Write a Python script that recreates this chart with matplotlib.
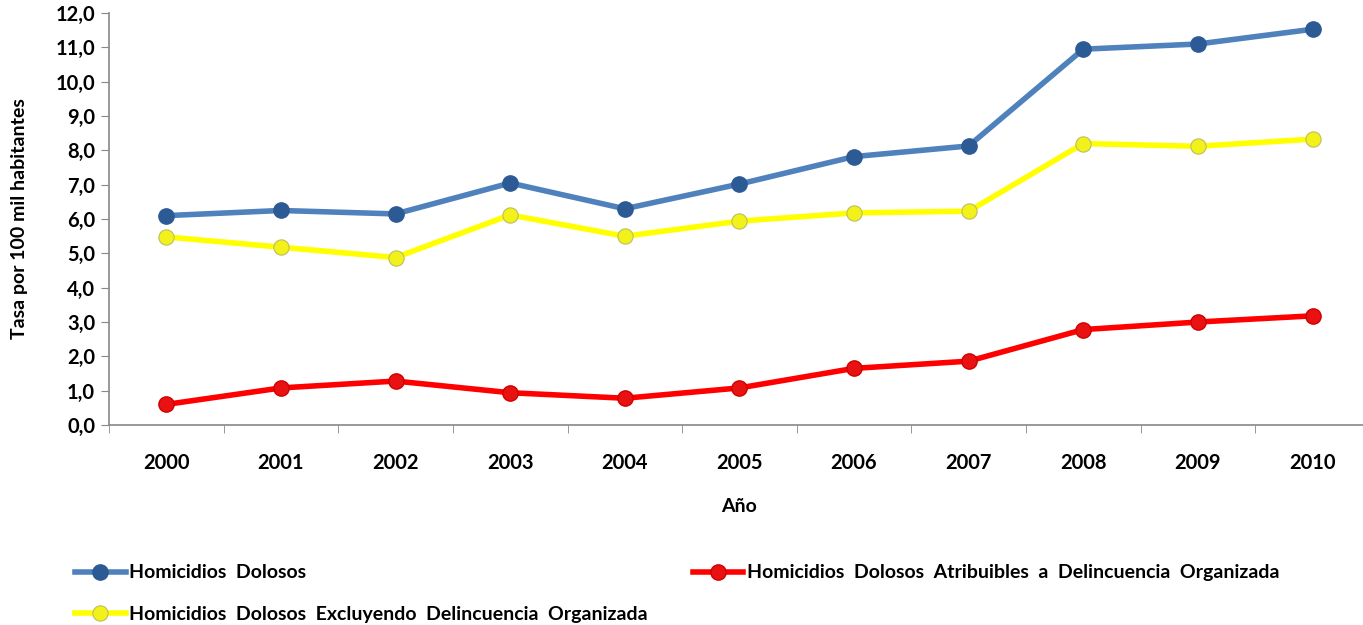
import matplotlib
matplotlib.use('Agg')
import matplotlib.pyplot as plt
import numpy as np

plt.rcParams['font.family'] = ['Lato', 'DejaVu Sans']
plt.rcParams['font.weight'] = 'bold'

years = ['2000', '2001', '2002', '2003', '2004', '2005', '2006', '2007', '2008', '2009', '2010']
homicidios = [6.1, 6.25, 6.15, 7.05, 6.3, 7.02, 7.82, 8.13, 10.95, 11.1, 11.53]
excluyendo = [5.48, 5.18, 4.88, 6.12, 5.5, 5.94, 6.18, 6.23, 8.2, 8.12, 8.33]
atribuibles = [0.6, 1.08, 1.28, 0.94, 0.78, 1.08, 1.65, 1.86, 2.78, 3.0, 3.18]

labels = ['Homicidios  Dolosos',
          'Homicidios  Dolosos  Excluyendo  Delincuencia  Organizada',
          'Homicidios  Dolosos  Atribuibles  a  Delincuencia  Organizada']

fig = plt.figure(figsize=(13.63, 6.25), dpi=100)
ax = fig.add_axes([0.080, 0.32, 0.925, 0.659])
x = np.arange(len(years))

l1, = ax.plot(x, homicidios, color='#4F81BD', lw=4, marker='o', ms=11,
              mfc='#2C5A94', mec='#2C5A94', label=labels[0])
l2, = ax.plot(x, excluyendo, color='#FFFF00', lw=4, marker='o', ms=11,
              mfc='#F2F21A', mec='#BDBD60', mew=0.8, label=labels[1])
l3, = ax.plot(x, atribuibles, color='#FF0000', lw=4, marker='o', ms=11,
              mfc='#E81212', mec='#D00000', label=labels[2])

ax.set_xlim(-0.5, len(years) - 0.5)
ax.set_ylim(0, 12)
ax.set_yticks(np.arange(0, 12.1, 1))
ax.set_yticklabels([f'{v:.1f}'.replace('.', ',') for v in np.arange(0, 12.1, 1)])
ax.set_xticks(x)
ax.set_xticklabels(years)
ax.set_xticks(np.arange(-0.5, len(years), 1), minor=True)
ax.tick_params(axis='x', which='major', length=0, pad=20, labelsize=14.5)
ax.tick_params(axis='x', which='minor', length=6, color='#888888', direction='out')
ax.tick_params(axis='y', length=6, color='#888888', labelsize=14.5, pad=4)

for s in ['top', 'right']:
    ax.spines[s].set_visible(False)
for s in ['left', 'bottom']:
    ax.spines[s].set_color('#888888')
    ax.spines[s].set_linewidth(1.2)

ax.set_ylabel('Tasa por 100 mil habitantes', fontsize=14, fontweight='bold')
ax.yaxis.set_label_coords(-0.064, 0.5)
ax.set_xlabel('Año', fontsize=14, fontweight='bold', labelpad=18)

fig.legend(handles=[l1, l2, l3], loc='upper left', bbox_to_anchor=(0.055, 0.097),
           ncol=2, frameon=False, fontsize=14, handlelength=2.6, columnspacing=2.3,
           handletextpad=0.2, labelspacing=1.25, borderpad=0, borderaxespad=0)

fig.savefig('out.png', dpi=100)
